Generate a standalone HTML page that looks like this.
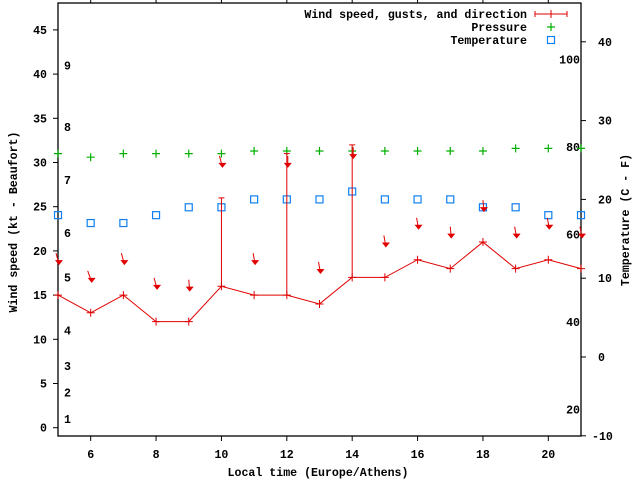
<!DOCTYPE html>
<html><head><meta charset="utf-8"><style>
body{margin:0;background:#fff}
svg text{font-family:"Liberation Mono","DejaVu Sans Mono",monospace;font-weight:bold;font-size:11.6px;fill:#000}
</style></head><body>
<svg id="c" width="640" height="480" xmlns="http://www.w3.org/2000/svg"></svg>
<script>
const hours=[5,6,7,8,9,10,11,12,13,14,15,16,17,18,19,20,21];
const windSpeed=[15,13,15,12,12,16,15,15,14,17,17,19,18,21,18,19,18];
const gusts=[null,null,null,null,null,26,null,31,null,32,null,null,null,null,null,null,null];
const pressure=[31,30.6,31,31,31,31,31.3,31.3,31.3,31.3,31.3,31.3,31.3,31.3,31.6,31.6,31.6];
const tempC=[18,17,17,18,19,19,20,20,20,21,20,20,20,19,19,18,18];
const arrowLevel=[18.5,16.5,18.5,15.7,15.5,29.5,18.5,29.5,17.5,30.5,20.5,22.5,21.5,24.5,21.5,22.5,21.5];
const arrowDx=[-3,-4,-3,-3,-1,-3,-2,0,-2,0,-2,-2,-1,-1,-2,-2,-2];
const xTicks=[6,8,10,12,14,16,18,20];
const yTicks=[0,5,10,15,20,25,30,35,40,45];
const y2Ticks=[-10,0,10,20,30,40];
const beaufortKt=[1,4,7,11,17,22,28,34,41];
const fTicks=[20,40,60,80,100];

const L=58,R=581,T=3,B=436;
const X=h=>L+(h-5)*(R-L)/16;
const Y=v=>427.7-v*8.84;
const Y2=c=>357-c*7.88;
const svg=document.getElementById('c');
const NS='http://www.w3.org/2000/svg';
function el(tag,attrs,parent){const e=document.createElementNS(NS,tag);for(const k in attrs)e.setAttribute(k,attrs[k]);(parent||svg).appendChild(e);return e;}
function txt(s,x,y,anchor,name,parent){const t=el('text',{x:x,y:y,'text-anchor':anchor||'start'},parent);t.textContent=s;return t;}

// axes frame
const frame=el('rect',{x:L,y:T,width:R-L,height:B-T,fill:'none',stroke:'#000','stroke-width':1.3});



xTicks.forEach(h=>{
  const x=X(h);
  const t=el('line',{x1:x,y1:B,x2:x,y2:B+5,stroke:'#000'});
  
  
  const t2=el('line',{x1:x,y1:T,x2:x,y2:T-4,stroke:'#000'});
  
  
  txt(String(h),x,458,'middle','x-tick-label');
});
yTicks.forEach(v=>{
  const y=Y(v);
  const t=el('line',{x1:L-5,y1:y,x2:L,y2:y,stroke:'#000'});
  
  
  txt(String(v),47,y+4,'end','y-tick-label');
});
y2Ticks.forEach(c=>{
  const y=Y2(c);
  const t=el('line',{x1:R,y1:y,x2:R+5,y2:y,stroke:'#000'});
  
  
  txt(String(c),c<0?592:598,y+4,'start','y2-tick-label');
});
beaufortKt.forEach((k,i)=>txt(String(i+1),64,Y(k)+4,'start','beaufort-label'));
fTicks.forEach(f=>txt(String(f),580,Y2((f-32)*5/9)+4,'end','fahrenheit-label'));

txt('Local time (Europe/Athens)',318,476,'middle','x-axis-title');
const yl=txt('Wind speed (kt - Beaufort)',0,0,'middle','y-axis-title');
yl.setAttribute('transform','translate(17,222) rotate(-90)');
const yr=txt('Temperature (C - F)',0,0,'middle','y2-axis-title');
yr.setAttribute('transform','translate(629,220) rotate(-90)');

// pressure
pressure.forEach((p,i)=>{
  const x=X(hours[i]),y=Y(p);
  const g=el('path',{d:`M${x-4} ${y}H${x+4}M${x} ${y-4}V${y+4}`,stroke:'#00b000','stroke-width':1.2,fill:'none'});
  
  
});
// temperature
tempC.forEach((c,i)=>{
  const x=X(hours[i]),y=Y2(c);
  const s=el('rect',{x:x-3.5,y:y-3.5,width:7,height:7,fill:'none',stroke:'#1080f0','stroke-width':1.2});
  
  
});
// gust bars
gusts.forEach((g,i)=>{
  if(g==null)return;
  const x=X(hours[i]);
  const b=el('path',{d:`M${x} ${Y(windSpeed[i])}V${Y(g)}M${x-3} ${Y(g)}H${x+3}`,stroke:'#e00000','stroke-width':1,fill:'none'});
  
  
});
// wind line
const pts=windSpeed.map((w,i)=>X(hours[i])+','+Y(w)).join(' ');
const line=el('polyline',{points:pts,fill:'none',stroke:'#e00000','stroke-width':1});


windSpeed.forEach((w,i)=>{
  const x=X(hours[i]),y=Y(w);
  const m=el('path',{d:`M${x-4} ${y}H${x+4}M${x} ${y-4}V${y+4}`,stroke:'#e00000','stroke-width':1});
  
  
});
// direction arrows
arrowLevel.forEach((a,i)=>{
  const x=X(hours[i])+1,y=Y(a);
  const dx=arrowDx[i];
  const g=el('g',{});
  
  
  el('line',{x1:x+dx,y1:y-11,x2:x,y2:y,stroke:'#e00000','stroke-width':1},g);
  el('polygon',{points:`${x-4},${y-4} ${x+4},${y-4} ${x},${y+1}`,fill:'#e00000'},g);
});

// legend
txt('Wind speed, gusts, and direction',527,18,'end','legend-wind-label');
const lw=el('path',{d:'M535 14H567M535 11V17M567 11V17M551 10V18',stroke:'#e00000','stroke-width':1,fill:'none'});


txt('Pressure',527,31,'end','legend-pressure-label');
const lp=el('path',{d:'M547 27H555M551 23V31',stroke:'#00b000','stroke-width':1.2});


txt('Temperature',527,44,'end','legend-temperature-label');
const lt=el('rect',{x:547.5,y:36.5,width:7,height:7,fill:'none',stroke:'#1080f0','stroke-width':1.2});


</script>
</body></html>
